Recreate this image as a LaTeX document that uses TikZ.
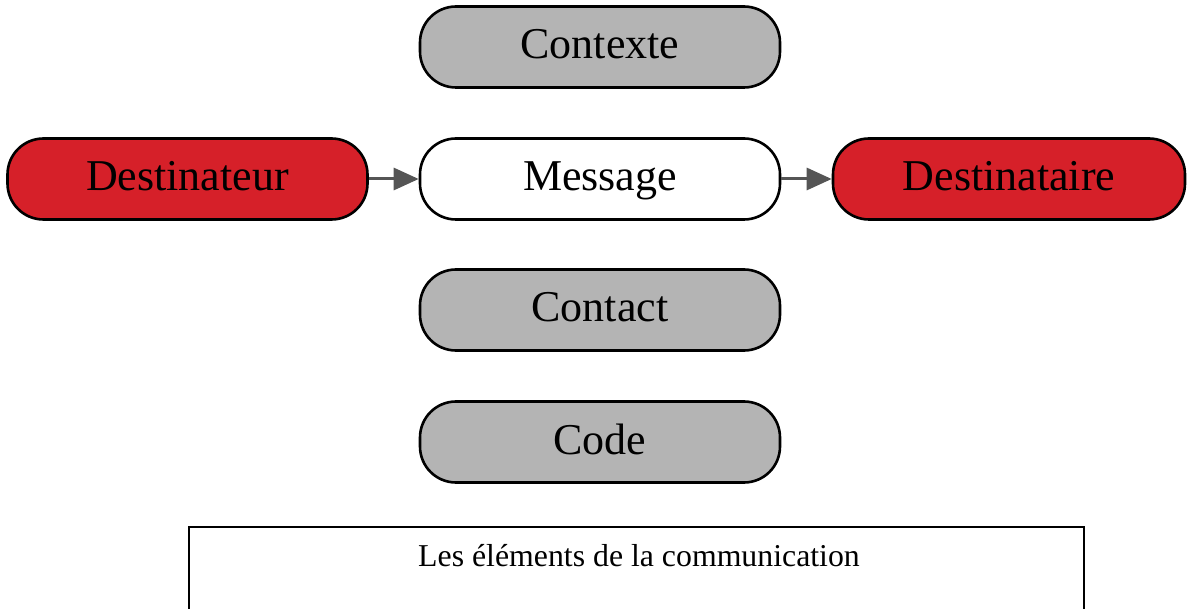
\documentclass[tikz,border=0pt]{standalone}
\usepackage{fontspec}
\setmainfont{Liberation Serif}
\usetikzlibrary{arrows.meta}
\definecolor{boxgray}{RGB}{180,180,180}
\definecolor{boxred}{RGB}{214,32,41}
\definecolor{arrgray}{RGB}{85,85,85}
\begin{document}
\begin{tikzpicture}[x=1pt,y=-1pt,
  pill/.style={draw=black,line width=2.6pt,rounded corners=36pt,minimum width=360pt,minimum height=81pt,inner sep=0pt,text height=36pt,text depth=12pt,font=\fontsize{44}{48}\selectfont},
  graypill/.style={pill,fill=boxgray},
  redpill/.style={pill,fill=boxred},
  whitepill/.style={pill,fill=white},
  conn/.style={draw=arrgray,line width=3pt,-{Triangle[length=25pt,width=22pt]}}]
\useasboundingbox (0,0) rectangle (1188,609);
\node[graypill] (contexte) at (600,47) {Contexte};
\node[redpill] (destinateur) at (187.5,179) {Destinateur};
\node[whitepill] (message) at (600,179) {Message};
\node[redpill,minimum width=352pt] (destinataire) at (1009,179) {Destinataire};
\node[graypill] (contact) at (600,310) {Contact};
\node[graypill] (code) at (600,442) {Code};
\draw[conn] (destinateur) -- (message);
\draw[conn] (message) -- (destinataire);
\node[draw=black,line width=1.8pt,minimum width=895pt,minimum height=110pt,anchor=north west,inner sep=0pt] (legend) at (188,526) {};
\node[font=\fontsize{31.8}{36}\selectfont,anchor=base] (caption) at (639,566) {Les éléments de la communication};
\end{tikzpicture}
\end{document}
